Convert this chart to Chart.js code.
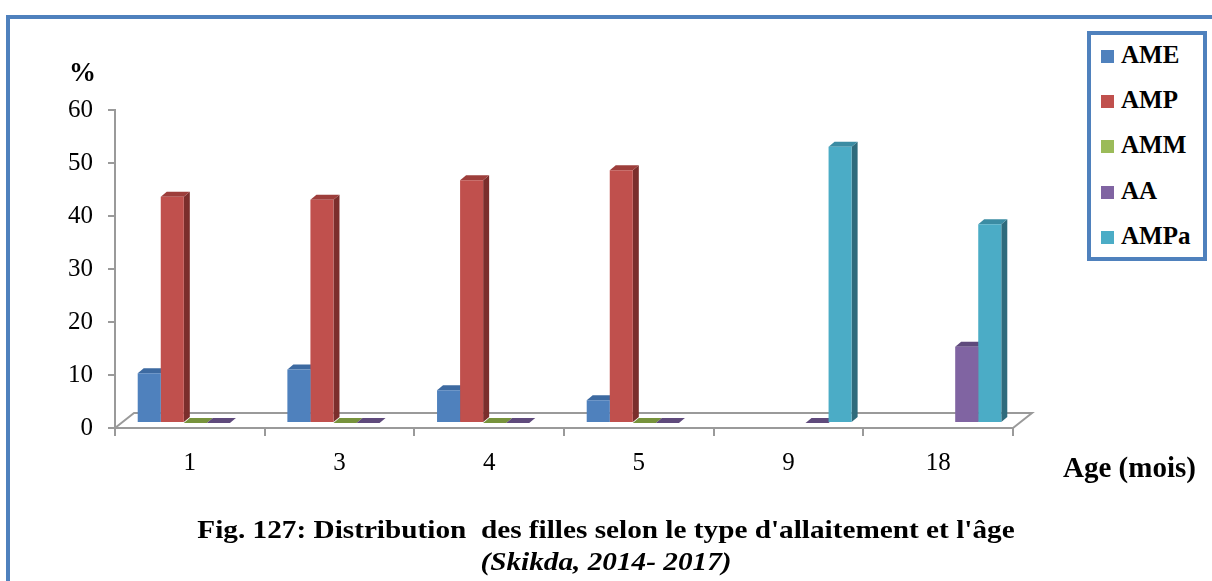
<!DOCTYPE html>
<html lang="fr">
<head>
<meta charset="utf-8">
<title>Distribution des filles selon le type d'allaitement et l'âge</title>
<script src="https://cdn.jsdelivr.net/npm/chart.js@4.4.1/dist/chart.umd.min.js"></script>
<style>
  html, body { margin: 0; padding: 0; background: #fff; overflow: hidden; }
  body { width: 1212px; height: 581px; position: relative; font-family: 'Liberation Serif', 'Times New Roman', serif; color: #000; }
  #frame { position: absolute; left: 6px; top: 15px; width: 1400px; height: 800px; border: 4px solid #4f81bd; }
  #chart { position: absolute; left: 0; top: 0; }
  .txt { position: absolute; font-weight: bold; white-space: pre; line-height: 1; }
  #pct { left: 69px; top: 59px; font-size: 27px; }
  #xTitle { left: 1063px; top: 453px; font-size: 29px; }
  #legend { position: absolute; left: 1087px; top: 31px; width: 112px; height: 222px; border: 4px solid #4f81bd; background: #fff; }
  #legend .item { height: 45.2px; line-height: 40px; padding-left: 10px; font-weight: bold; font-size: 25px; white-space: nowrap; }
  #legend .sw { display: inline-block; width: 13px; height: 13px; margin-right: 7px; }
  #caption { position: absolute; left: 0; width: 1212px; top: 514px; text-align: center; font-weight: bold; font-size: 25px; line-height: 32px; white-space: pre; transform: scaleX(1.17); transform-origin: 606px 0; }
  #caption i { font-style: italic; }
</style>
</head>
<body>
<div id="frame"></div>
<canvas id="chart" width="1212" height="581"></canvas>
<div id="pct" class="txt">%</div>
<div id="xTitle" class="txt">Age (mois)</div>
<div id="legend"></div>
<div id="caption">Fig. 127: Distribution  des filles selon le type d'allaitement et l'âge
<i>(Skikda, 2014- 2017)</i></div>
<script>
// Age groups (months) and share of each feeding type, in %
const AGES = ['1', '3', '4', '5', '9', '18'];
const AME  = [9.4, 10.1, 6.2, 4.3, null, null];
const AMP  = [42.7, 42.1, 45.8, 47.7, null, null];
const AMM  = [0, 0, 0, 0, null, null];
const AA   = [0, 0, 0, 0, 0, 14.4];
const AMPa = [null, null, null, null, 52.1, 37.5];

const Y_TICKS = [0, 10, 20, 30, 40, 50, 60];

const AXIS_GREY = '#9a9a9a';
const FONT = "'Liberation Serif', 'Times New Roman', serif";

// fake 3D: bars stand a bit behind the front edge of the floor
const SHIFT_X = 5.5, SHIFT_Y = 5;
const DEPTH_X = 6, DEPTH_Y = 5;
const FLOOR_X = 19, FLOOR_Y = 15;

const series = [
  { label: 'AME',  data: AME,  front: '#4f81bd', top: '#3d6aa1', side: '#345a8a' },
  { label: 'AMP',  data: AMP,  front: '#c0504d', top: '#9d3e3b', side: '#7b2e2c' },
  { label: 'AMM',  data: AMM,  front: '#9bbb59', top: '#77933c', side: '#5e7530' },
  { label: 'AA',   data: AA,   front: '#8064a2', top: '#5f4a7c', side: '#4c3b63' },
  { label: 'AMPa', data: AMPa, front: '#4bacc6', top: '#3b8ca3', side: '#2f6b7c' },
];

const bars3d = {
  id: 'bars3d',
  beforeDatasetsDraw(chart) {
    const { ctx, chartArea: a } = chart;

    // floor outline (front edge is the x axis itself)
    ctx.save();
    ctx.strokeStyle = AXIS_GREY;
    ctx.lineWidth = 2;
    ctx.beginPath();
    ctx.moveTo(a.left, a.bottom);
    ctx.lineTo(a.left + FLOOR_X, a.bottom - FLOOR_Y);
    ctx.lineTo(a.right + FLOOR_X, a.bottom - FLOOR_Y);
    ctx.lineTo(a.right, a.bottom);
    ctx.stroke();
    ctx.restore();

    // everything up to afterDatasetsDraw is pushed back into the floor
    ctx.save();
    ctx.translate(SHIFT_X, -SHIFT_Y);

    // side + top faces first, so the neighbour's front face hides what it should
    chart.data.datasets.forEach((ds, i) => {
      chart.getDatasetMeta(i).data.forEach((bar, j) => {
        if (ds.data[j] == null) return;
        const { x, y, base, width } = bar.getProps(['x', 'y', 'base', 'width'], true);
        const l = x - width / 2, r = x + width / 2;

        if (base - y > 0.5) {
          ctx.fillStyle = ds.sideColor;
          ctx.beginPath();
          ctx.moveTo(r, y);
          ctx.lineTo(r + DEPTH_X, y - DEPTH_Y);
          ctx.lineTo(r + DEPTH_X, base - DEPTH_Y);
          ctx.lineTo(r, base);
          ctx.closePath();
          ctx.fill();
        }

        ctx.fillStyle = ds.topColor;
        ctx.beginPath();
        ctx.moveTo(l, y);
        ctx.lineTo(r, y);
        ctx.lineTo(r + DEPTH_X, y - DEPTH_Y);
        ctx.lineTo(l + DEPTH_X, y - DEPTH_Y);
        ctx.closePath();
        ctx.fill();
      });
    });
  },
  afterDatasetsDraw(chart) {
    chart.ctx.restore();
  }
};

const chart = new Chart(document.getElementById('chart'), {
  type: 'bar',
  data: {
    labels: AGES,
    datasets: series.map(s => ({
      label: s.label,
      data: s.data,
      backgroundColor: s.front,
      topColor: s.top,
      sideColor: s.side,
      borderWidth: 0,
      categoryPercentage: 0.77,
      barPercentage: 1,
    }))
  },
  options: {
    responsive: false,
    animation: false,
    events: [],
    layout: { padding: { left: 0, top: 110, right: 199, bottom: 93 } },
    plugins: { legend: { display: false }, tooltip: { enabled: false } },
    scales: {
      x: {
        afterFit: s => { s.height = 60; },
        grid: { offset: true, drawOnChartArea: false, drawTicks: true, tickLength: 8, color: AXIS_GREY, lineWidth: 2 },
        border: { color: AXIS_GREY, width: 2 },
        ticks: { color: '#000', font: { family: FONT, size: 25 }, padding: 12 }
      },
      y: {
        min: Y_TICKS[0],
        max: Y_TICKS[Y_TICKS.length - 1],
        afterFit: s => { s.width = 115; },
        afterBuildTicks: s => { s.ticks = Y_TICKS.map(v => ({ value: v })); },
        grid: { drawOnChartArea: false, drawTicks: true, tickLength: 7, color: AXIS_GREY, lineWidth: 2 },
        border: { color: AXIS_GREY, width: 2 },
        ticks: { color: '#000', font: { family: FONT, size: 25 }, padding: 15 }
      }
    }
  },
  plugins: [bars3d]
});

// legend box on the right
const legendEl = document.getElementById('legend');
chart.data.datasets.forEach(ds => {
  legendEl.innerHTML += `<div class="item"><span class="sw" style="background:${ds.backgroundColor}"></span>${ds.label}</div>`;
});
</script>
</body>
</html>
